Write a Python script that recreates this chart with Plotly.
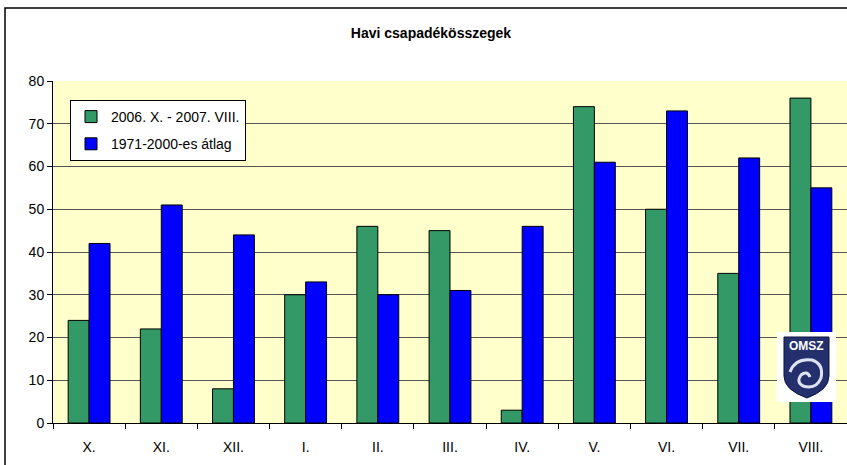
import plotly.graph_objects as go

categories = ["X.", "XI.", "XII.", "I.", "II.", "III.", "IV.", "V.", "VI.", "VII.", "VIII."]
series_2006_07 = [24, 22, 8, 30, 46, 45, 3, 74, 50, 35, 76]
series_avg = [42, 51, 44, 33, 30, 31, 46, 61, 73, 62, 55]
name_2006_07 = "2006. X. - 2007. VIII."
name_avg = "1971-2000-es átlag"
title_text = "Havi csapadékösszegek"
y_ticks = [0, 10, 20, 30, 40, 50, 60, 70, 80]

W, H = 847, 465
L, R, T, B = 53, 847, 81, 423
FONT = "Liberation Sans, Arial, sans-serif"


def px(x):
    return (x - L) / (R - L)


def py(y):
    return (B - y) / (B - T)


fig = go.Figure()
fig.add_trace(go.Bar(x=categories, y=series_2006_07, name=name_2006_07,
                     marker=dict(color="#339966", line=dict(color="#000000", width=1)),
                     legendgroup="a"))
fig.add_trace(go.Bar(x=categories, y=series_avg, name=name_avg,
                     marker=dict(color="#0000FF", line=dict(color="#000000", width=1)),
                     legendgroup="b"))

shapes = []
# outer chart border
shapes.append(dict(type="rect", xref="paper", yref="paper",
                   x0=px(5), x1=px(860), y0=py(480), y1=py(8),
                   line=dict(color="#000000", width=1.5), fillcolor="rgba(0,0,0,0)", layer="above"))
# logo background
shapes.append(dict(type="rect", xref="paper", yref="paper",
                   x0=px(777), x1=px(836), y0=py(402), y1=py(332),
                   line=dict(width=0), fillcolor="#FFFFFF", layer="above"))


def pth(points, close=True):
    s = ""
    for cmd, pts in points:
        s += cmd + " " + " ".join(f"{px(a):.5f},{py(b):.5f}" for a, b in pts) + " "
    if close:
        s += "Z"
    return s


shield = pth([("M", [(784, 337)]), ("L", [(829, 337)]), ("L", [(829, 376)]),
              ("Q", [(829, 390), (807, 398)]), ("Q", [(784, 390), (784, 376)])])
shapes.append(dict(type="path", xref="paper", yref="paper", path=shield,
                   fillcolor="#24306E", line=dict(color="#0D1440", width=1), layer="above"))
swirl = pth([("M", [(790, 372)]), ("Q", [(795, 358), (812, 360)]),
             ("Q", [(824, 364), (821, 378)]), ("Q", [(816, 390), (803, 386)]),
             ("Q", [(796, 382), (801, 375)]), ("Q", [(807, 370), (810, 377)])], close=False)
shapes.append(dict(type="path", xref="paper", yref="paper", path=swirl,
                   line=dict(color="#DDE3F0", width=3), layer="above"))

fig.update_layout(
    width=W, height=H,
    margin=dict(l=L, r=W - R, t=T, b=H - B, autoexpand=False),
    paper_bgcolor="#FFFFFF",
    plot_bgcolor="#FFFFCC",
    barmode="group", bargap=0.42, bargroupgap=0,
    font=dict(family=FONT, size=14, color="#000000"),
    title=dict(text="<b>" + title_text + "</b>", x=431 / W, xref="container", xanchor="center",
               y=1 - 33 / H, yref="container", yanchor="middle",
               font=dict(family=FONT, size=14, color="#000000")),
    showlegend=True,
    legend=dict(x=px(70), y=py(100), xanchor="left", yanchor="top",
                bgcolor="#FFFFFF", bordercolor="#000000", borderwidth=1,
                font=dict(family=FONT, size=14), traceorder="grouped", tracegroupgap=6,
                itemclick=False, itemwidth=30),
    xaxis=dict(type="category", showline=True, linecolor="#000000", linewidth=1,
               ticks="outside", tickson="boundaries", ticklen=5, tickcolor="#000000",
               tickfont=dict(family=FONT, size=14), ticklabelstandoff=11,
               showgrid=False, mirror=False, automargin=False),
    yaxis=dict(range=[0, 80], tickvals=y_ticks, showline=True, linecolor="#000000", linewidth=1,
               ticks="outside", ticklen=5, tickcolor="#000000",
               tickfont=dict(family=FONT, size=14), automargin=False,
               showgrid=True, gridcolor="#555555", gridwidth=1, zeroline=False),
    shapes=shapes,
    annotations=[dict(text="<b>OMSZ</b>", xref="paper", yref="paper", x=px(806.5), y=py(346),
                      showarrow=False, font=dict(family=FONT, size=12, color="#FFFFFF"),
                      xanchor="center", yanchor="middle")],
)

fig.write_html("out.html", config={"displayModeBar": False},
               post_script="document.body.style.margin='0';")
